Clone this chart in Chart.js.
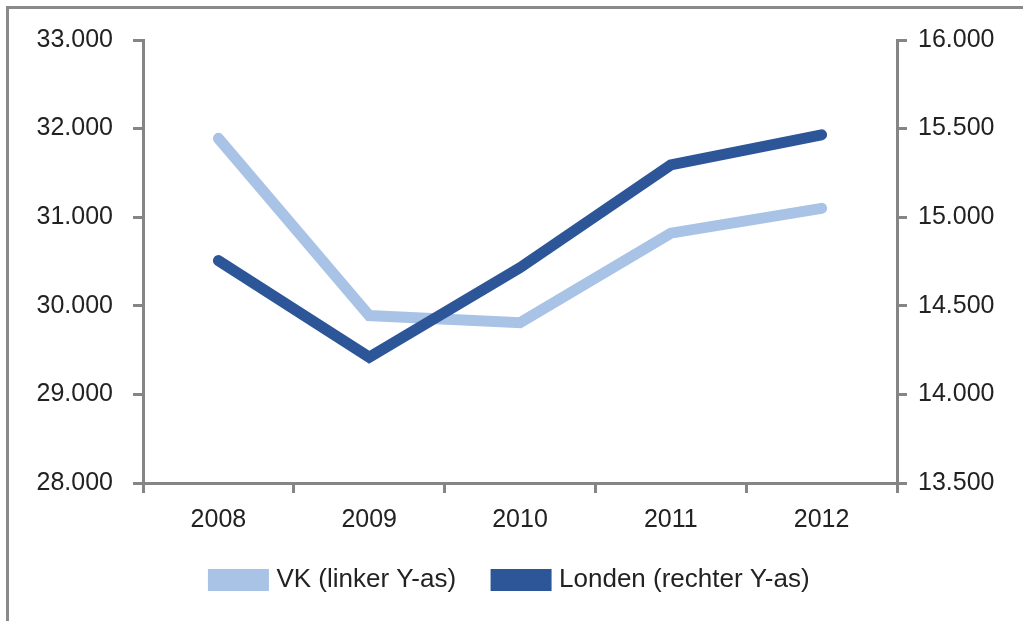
<!DOCTYPE html>
<html>
<head>
<meta charset="utf-8">
<script src="https://cdn.jsdelivr.net/npm/chart.js@4.4.1/dist/chart.umd.min.js"></script>
<style>
    html, body { margin: 0; padding: 0; background: #fff; }
    #wrap { position: relative; width: 1023px; height: 621px; }
    #frame {
        position: absolute; left: 6px; top: 6px; right: 0; bottom: 0;
        border-left: 3px solid #8a8a8a; border-top: 3px solid #8a8a8a;
        pointer-events: none;
    }
</style>
</head>
<body>
<div id="wrap">
    <canvas id="chart" width="1023" height="621"></canvas>
    <div id="frame"></div>
</div>
<script>
const years = ['2008', '2009', '2010', '2011', '2012'];
const vkValues = [31890, 29890, 29810, 30820, 31100];       // linker Y-as
const londenValues = [14755, 14210, 14715, 15295, 15465];   // rechter Y-as
const leftTicks = [28000, 29000, 30000, 31000, 32000, 33000];
const rightTicks = [13500, 14000, 14500, 15000, 15500, 16000];

const axisGrey = '#858585';
const family = '"Liberation Sans", Arial, sans-serif';
const tickFont = { family: family, size: 25 };
const legendFont = { family: family, size: 26 };

// Dutch thousands separator: 33000 -> 33.000
function fmt(v) {
    return String(v).replace(/\B(?=(\d{3})+(?!\d))/g, '.');
}

function yAxis(position, ticks, width, pad) {
    return {
        type: 'linear',
        position: position,
        min: ticks[0],
        max: ticks[ticks.length - 1],
        afterBuildTicks: axis => { axis.ticks = ticks.map(v => ({ value: v })); },
        afterFit: axis => { axis.width = width; },
        border: { color: axisGrey, width: 3 },
        grid: { drawOnChartArea: false, color: axisGrey, lineWidth: 3, tickLength: 10 },
        ticks: { font: tickFont, color: '#222', padding: pad, callback: v => fmt(v) }
    };
}

const ctx = document.getElementById('chart').getContext('2d');
new Chart(ctx, {
    type: 'line',
    data: {
        labels: years,
        datasets: [{
            label: 'VK (linker Y-as)',
            data: vkValues,
            yAxisID: 'yLeft',
            borderColor: '#a9c3e6',
            backgroundColor: '#a9c3e6',
            borderWidth: 11,
            pointRadius: 0,
            borderCapStyle: 'round',
            borderJoinStyle: 'miter',
            order: 1
        }, {
            label: 'Londen (rechter Y-as)',
            data: londenValues,
            yAxisID: 'yRight',
            borderColor: '#2d5699',
            backgroundColor: '#2d5699',
            borderWidth: 11,
            pointRadius: 0,
            borderCapStyle: 'round',
            borderJoinStyle: 'miter',
            order: 0
        }]
    },
    options: {
        responsive: false,
        animation: false,
        layout: { padding: { left: 10, right: 10, top: 40, bottom: 18 } },
        plugins: {
            tooltip: { enabled: false },
            legend: {
                position: 'bottom',
                labels: {
                    font: legendFont,
                    color: '#222',
                    boxWidth: 50,
                    boxHeight: 11,
                    padding: 40,
                    sort: (a, b) => a.datasetIndex - b.datasetIndex
                }
            }
        },
        scales: {
            x: {
                offset: true,
                afterFit: axis => { axis.height = 44; },
                border: { color: axisGrey, width: 3 },
                grid: { offset: true, drawOnChartArea: false, color: axisGrey, lineWidth: 3, tickLength: 10 },
                ticks: { font: tickFont, color: '#222', padding: 12 }
            },
            yLeft: yAxis('left', leftTicks, 133, 20),
            yRight: yAxis('right', rightTicks, 116, 11)
        }
    }
});
</script>
</body>
</html>
